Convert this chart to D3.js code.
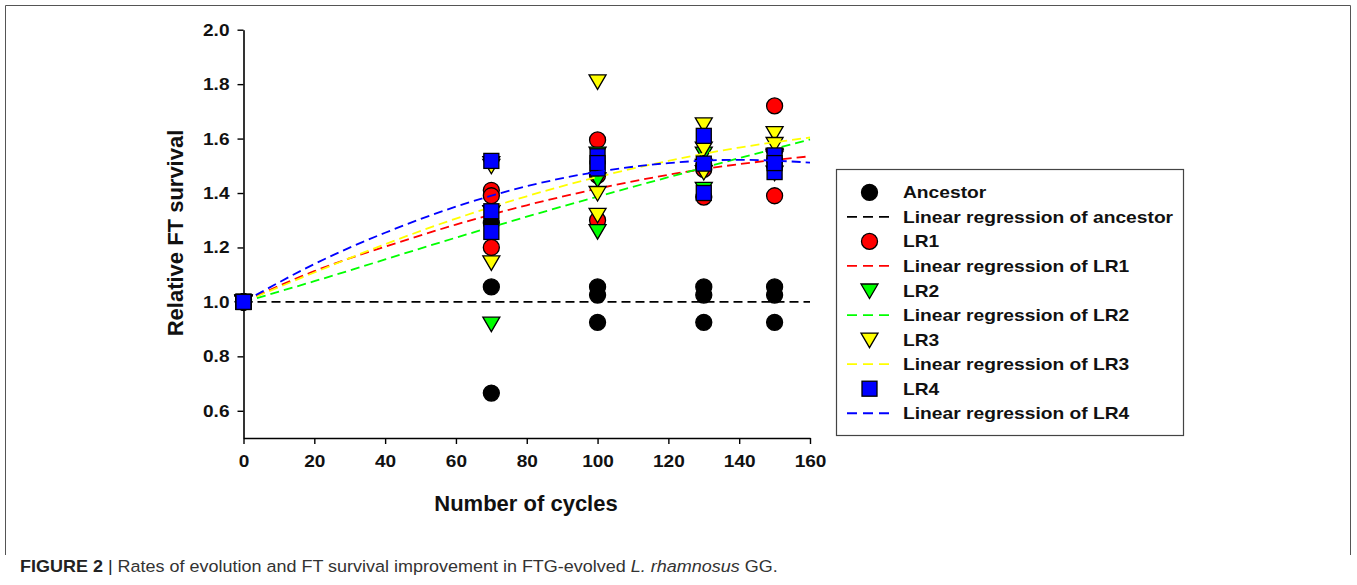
<!DOCTYPE html>
<html>
<head>
  <meta charset='utf-8'>
  <script src="https://d3js.org/d3.v7.min.js"></script>
  <style>
    body { margin: 0; background: #fff; }
    svg text { font-family: 'Liberation Sans', Arial, sans-serif; }
  </style>
</head>
<body>
<script type='text/javascript'>
  // Data
  var cycles = [0, 70, 100, 130, 150];
  var ancestor = [[1.0, 1.0, 1.0], [1.29, 1.055, 0.665], [1.055, 1.025, 0.925], [1.055, 1.025, 0.925], [1.055, 1.025, 0.925]];
  var lr1 = [[1.0, 1.0, 1.0], [1.41, 1.39, 1.20], [1.595, 1.465, 1.30], [1.50, 1.487, 1.385], [1.72, 1.52, 1.39]];
  var lr2 = [[1.0, 1.0, 1.0], [1.33, 1.51, 0.92], [1.545, 1.45, 1.26], [1.545, 1.50, 1.415], [1.54, 1.475, 1.535]];
  var lr3 = [[1.0, 1.0, 1.0], [1.50, 1.145, 1.33], [1.81, 1.40, 1.32], [1.652, 1.563, 1.477], [1.62, 1.58, 1.53]];
  var lr4 = [[1.0, 1.0, 1.0], [1.518, 1.333, 1.257], [1.535, 1.49, 1.51], [1.61, 1.508, 1.40], [1.538, 1.477, 1.51]];

  // regression curves, sampled off the figure
  var fitX = [0, 20, 40, 60, 80, 100, 120, 140, 160];
  var fitAncestor = [1, 1, 1, 1, 1, 1, 1, 1, 1];
  var fitLR1 = [1.0, 1.113, 1.203, 1.284, 1.355, 1.416, 1.467, 1.506, 1.535];
  var fitLR2 = [1.0, 1.076, 1.156, 1.236, 1.313, 1.387, 1.458, 1.528, 1.597];
  var fitLR3 = [1.0, 1.108, 1.212, 1.306, 1.388, 1.459, 1.518, 1.567, 1.604];
  var fitLR4 = [1.0, 1.139, 1.254, 1.350, 1.425, 1.478, 1.510, 1.522, 1.512];

  var xTicks = [0, 20, 40, 60, 80, 100, 120, 140, 160];
  var yTicks = [0.6, 0.8, 1.0, 1.2, 1.4, 1.6, 1.8, 2.0];

  var series = [
    {name: 'Ancestor', fitName: 'Linear regression of ancestor', vals: ancestor, fit: fitAncestor, color: '#000000', line: '#000000', shape: 'circle'},
    {name: 'LR1', fitName: 'Linear regression of LR1', vals: lr1, fit: fitLR1, color: '#ff0000', line: '#ff0000', shape: 'circle'},
    {name: 'LR2', fitName: 'Linear regression of LR2', vals: lr2, fit: fitLR2, color: '#00ff00', line: '#00ff00', shape: 'triangle'},
    {name: 'LR3', fitName: 'Linear regression of LR3', vals: lr3, fit: fitLR3, color: '#ffff00', line: '#ffff00', shape: 'triangle'},
    {name: 'LR4', fitName: 'Linear regression of LR4', vals: lr4, fit: fitLR4, color: '#0000ff', line: '#0000ff', shape: 'square'}
  ];

  var W = 1357, H = 585;
  var svg = d3.select('body').append('svg').attr('width', W).attr('height', H);

  // figure frame (open at the bottom, above the caption)
  svg.append('path')
    .attr('d', 'M5.5,555V5.5H1350.5V555')
    .attr('fill', 'none').attr('stroke', '#555').attr('stroke-width', 1);

  var x = d3.scaleLinear().domain([0, 160]).range([243.5, 810]);
  var y = d3.scaleLinear().domain([0.5, 2.0]).range([438, 29.7]);

  // stretch text a bit wider, the source figure is squashed vertically
  function stretch(sel, k) {
    sel.each(function() {
      var len = this.getComputedTextLength();
      d3.select(this).attr('textLength', len * k).attr('lengthAdjust', 'spacingAndGlyphs');
    });
  }

  // axes
  var gx = svg.append('g').attr('transform', 'translate(0,438)')
    .call(d3.axisBottom(x).tickValues(xTicks).tickSize(6).tickSizeOuter(0).tickPadding(11));
  var gy = svg.append('g').attr('transform', 'translate(243.5,0)')
    .call(d3.axisLeft(y).tickValues(yTicks).tickSize(6).tickSizeOuter(0).tickPadding(8).tickFormat(d3.format('.1f')));

  [gx, gy].forEach(function(g) {
    g.select('.domain').attr('stroke', '#000').attr('stroke-width', 1.6);
    g.selectAll('.tick line').attr('stroke', '#000').attr('stroke-width', 1.4);
    g.selectAll('.tick text').attr('fill', '#111').style('font-size', '17px').style('font-weight', 'bold');
  });
  stretch(gx.selectAll('.tick text'), 1.12);
  stretch(gy.selectAll('.tick text'), 1.12);

  svg.append('text')
    .attr('x', 526).attr('y', 511)
    .attr('text-anchor', 'middle')
    .style('font-size', '22px').style('font-weight', 'bold').attr('fill', '#111')
    .text('Number of cycles');

  svg.append('text')
    .attr('transform', 'translate(183,233) rotate(-90)')
    .attr('text-anchor', 'middle')
    .style('font-size', '22px').style('font-weight', 'bold').attr('fill', '#111')
    .text('Relative FT survival');

  // marker shapes
  function marker(g, shape, color, cx, cy) {
    if (shape === 'circle') {
      g.append('circle').attr('cx', cx).attr('cy', cy).attr('r', 8)
        .attr('fill', color).attr('stroke', '#000').attr('stroke-width', 1.3);
    } else if (shape === 'square') {
      g.append('rect').attr('x', cx - 7.5).attr('y', cy - 7.5).attr('width', 15).attr('height', 15)
        .attr('fill', color).attr('stroke', '#000').attr('stroke-width', 1.3);
    } else {
      g.append('path')
        .attr('d', 'M' + (cx - 8.5) + ',' + (cy - 6.5) + 'L' + (cx + 8.5) + ',' + (cy - 6.5) + 'L' + cx + ',' + (cy + 8) + 'Z')
        .attr('fill', color).attr('stroke', '#000').attr('stroke-width', 1.3).attr('stroke-linejoin', 'miter');
    }
  }

  var lineGen = d3.line()
    .x(function(d) { return x(d[0]); })
    .y(function(d) { return y(d[1]); })
    .curve(d3.curveNatural);

  var plot = svg.append('g');
  series.forEach(function(s) {
    var g = plot.append('g');
    s.vals.forEach(function(reps, i) {
      reps.forEach(function(v) { marker(g, s.shape, s.color, x(cycles[i]), y(v)); });
    });
    g.append('path')
      .datum(fitX.map(function(c, i) { return [c, s.fit[i]]; }))
      .attr('d', lineGen)
      .attr('fill', 'none').attr('stroke', s.line).attr('stroke-width', 1.8)
      .attr('stroke-dasharray', '9,5');
  });
  // redraw the shared start point on top
  series.forEach(function(s) { marker(plot, s.shape, s.color, x(cycles[0]), y(s.vals[0][0])); });

  // legend
  var legend = svg.append('g');
  legend.append('rect')
    .attr('x', 836.5).attr('y', 169.5).attr('width', 347).attr('height', 266)
    .attr('fill', '#fff').attr('stroke', '#444').attr('stroke-width', 1.2);
  var rowY = 192.3, rowStep = 24.55;
  series.forEach(function(s, i) {
    var y1 = rowY + rowStep * 2 * i, y2 = y1 + rowStep;
    marker(legend, s.shape, s.color, 869.5, y1);
    legend.append('line')
      .attr('x1', 847).attr('x2', 891).attr('y1', y2).attr('y2', y2)
      .attr('stroke', s.line).attr('stroke-width', 1.8).attr('stroke-dasharray', '10,6');
    legend.append('text').attr('x', 903).attr('y', y1 + 6)
      .style('font-size', '17px').style('font-weight', 'bold').attr('fill', '#111').text(s.name);
    legend.append('text').attr('x', 903).attr('y', y2 + 6)
      .style('font-size', '17px').style('font-weight', 'bold').attr('fill', '#111').text(s.fitName);
  });
  stretch(legend.selectAll('text'), 1.13);

  // caption, squeezed horizontally to the width of the original
  var cap = svg.append('text').attr('x', 0).attr('y', 0)
    .style('font-size', '16.5px').attr('fill', '#333');
  cap.append('tspan').style('font-weight', 'bold').attr('fill', '#222').text('FIGURE 2');
  cap.append('tspan').attr('fill', '#222').text(' | ');
  cap.append('tspan').text('Rates of evolution and FT survival improvement in FTG-evolved ');
  cap.append('tspan').style('font-style', 'italic').text('L. rhamnosus');
  cap.append('tspan').text(' GG.');
  var capLen = cap.node().getComputedTextLength();
  cap.attr('transform', 'translate(20,572) scale(' + (758 / capLen) + ',1)');
</script>
</body>
</html>
